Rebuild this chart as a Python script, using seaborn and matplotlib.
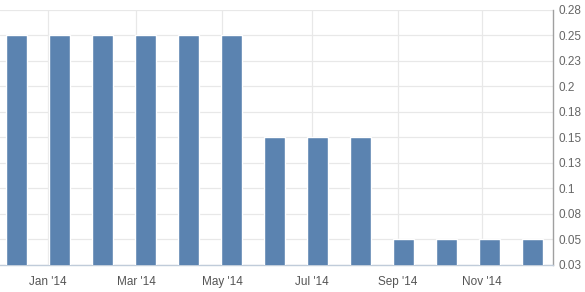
import matplotlib
matplotlib.use("Agg")
import matplotlib.pyplot as plt
import seaborn as sns
import pandas as pd

months = ["Dec '13", "Jan '14", "Feb '14", "Mar '14", "Apr '14", "May '14", "Jun '14",
          "Jul '14", "Aug '14", "Sep '14", "Oct '14", "Nov '14", "Dec '14"]
values = [0.25, 0.25, 0.25, 0.25, 0.25, 0.25, 0.15, 0.15, 0.15, 0.05, 0.05, 0.05, 0.05]
xtick_labels = ["Jan '14", "Mar '14", "May '14", "Jul '14", "Sep '14", "Nov '14"]
ytick_values = [0.025, 0.05, 0.075, 0.1, 0.125, 0.15, 0.175, 0.2, 0.225, 0.25, 0.275]
ytick_labels = ["0.03", "0.05", "0.08", "0.1", "0.13", "0.15", "0.18", "0.2", "0.23", "0.25", "0.28"]

df = pd.DataFrame({"month": months, "value": values})

sns.set_theme(style="white")
plt.rcParams["font.family"] = ["Liberation Sans", "DejaVu Sans"]

fig = plt.figure(figsize=(5.85, 2.92), dpi=100)
ax = fig.add_axes([0.0, 0.0925, 0.9453, 0.8743])

sns.barplot(data=df, x="month", y="value", color="#5B83B0", width=0.5,
            saturation=1, ax=ax, zorder=3)

# tick positions in category units (layout)
xtick_pos = [0.733, 2.779, 4.779, 6.872, 8.872, 10.826]
ax.set_xticks(xtick_pos)
ax.set_xticklabels(xtick_labels)
ax.set_xlim(-0.384, 12.477)
ax.set_ylim(0.025, 0.275)
ax.set_yticks(ytick_values)
ax.set_yticklabels(ytick_labels)

ax.yaxis.tick_right()
ax.grid(True, color="#E8E8E8", linewidth=0.9, zorder=0)
ax.set_axisbelow(True)
ax.set_xlabel("")
ax.set_ylabel("")

for s in ["top", "left"]:
    ax.spines[s].set_visible(False)
ax.spines["bottom"].set_color("#C0CCDA")
ax.spines["bottom"].set_linewidth(1.0)
ax.spines["right"].set_color("#A0A0A0")
ax.spines["right"].set_linewidth(1.0)

ax.tick_params(axis="x", length=0, pad=8, labelsize=8.5, labelcolor="#555555")
ax.tick_params(axis="y", length=0, pad=4, labelsize=8.5, labelcolor="#666666")

fig.savefig("out.png", dpi=100)
